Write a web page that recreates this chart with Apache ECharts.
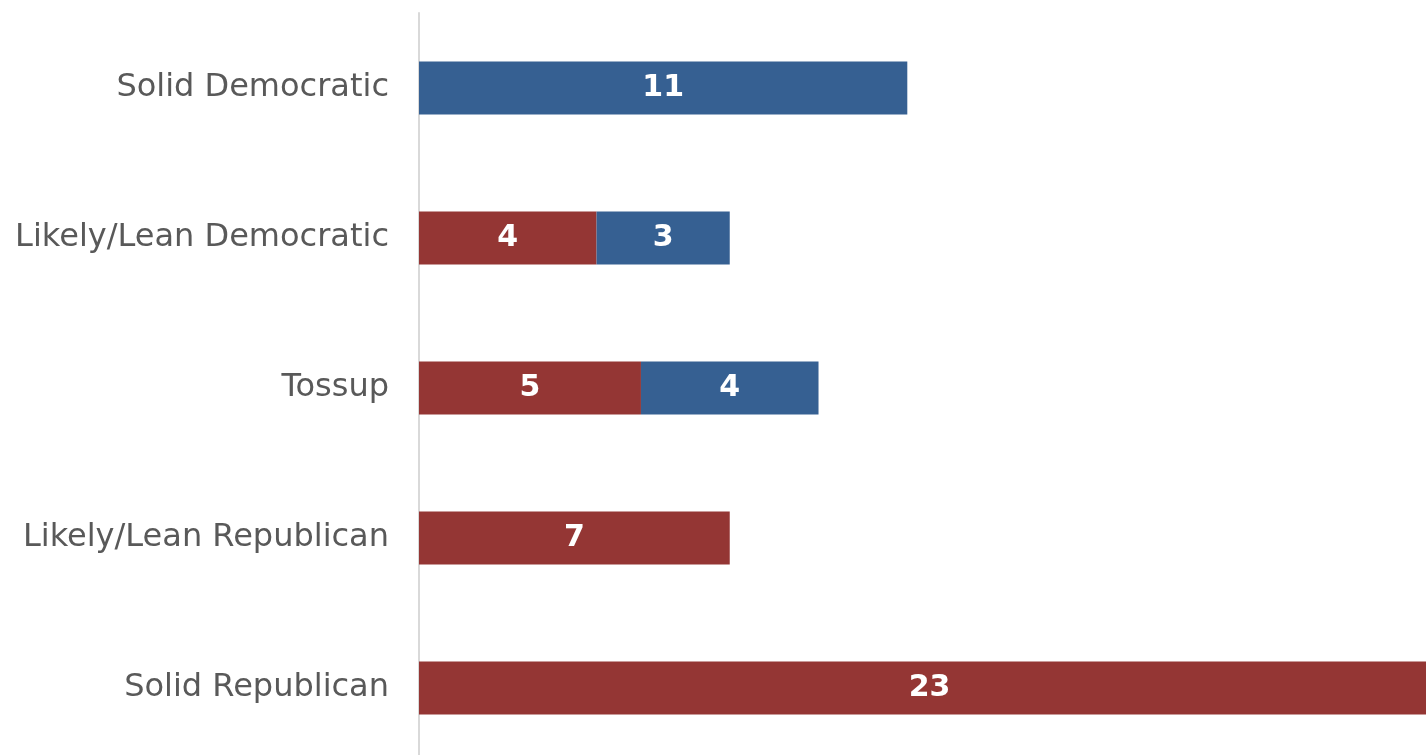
<!DOCTYPE html>
<html><head><meta charset="utf-8">
<script src="https://cdn.jsdelivr.net/npm/echarts@6/dist/echarts.min.js"></script>
<style>html,body{margin:0;padding:0;background:#fff;overflow:hidden;width:1426px;height:755px}#c{width:1440px;height:763px}</style>
</head><body><div id="c"></div>
<script>
const categories = ["Solid Democratic","Likely/Lean Democratic","Tossup","Likely/Lean Republican","Solid Republican"];
const republican = [null, 4, 5, 7, 23];
const democratic = [11, 3, 4, null, null];
const chart = echarts.init(document.getElementById('c'));
const lbl = {show:true, position:'inside', color:'#fff', fontWeight:'bold', fontSize:30, fontFamily:'DejaVu Sans'};
chart.setOption({
  animation:false,
  grid:{left:419, top:13, right:0, bottom:0, containLabel:false},
  xAxis:{type:'value', min:0, max:23, show:false},
  yAxis:{type:'category', data:categories, inverse:true,
    axisLine:{show:true, lineStyle:{color:'#d9d9d9', width:2}},
    axisTick:{show:false},
    axisLabel:{color:'#595959', fontSize:32, fontFamily:'DejaVu Sans', margin:30}},
  series:[
    {name:'Republican', type:'bar', stack:'s', data:republican, barWidth:53, itemStyle:{color:'#943634'}, label:lbl},
    {name:'Democratic', type:'bar', stack:'s', data:democratic, barWidth:53, itemStyle:{color:'#366092'}, label:lbl}
  ]
});
</script></body></html>
